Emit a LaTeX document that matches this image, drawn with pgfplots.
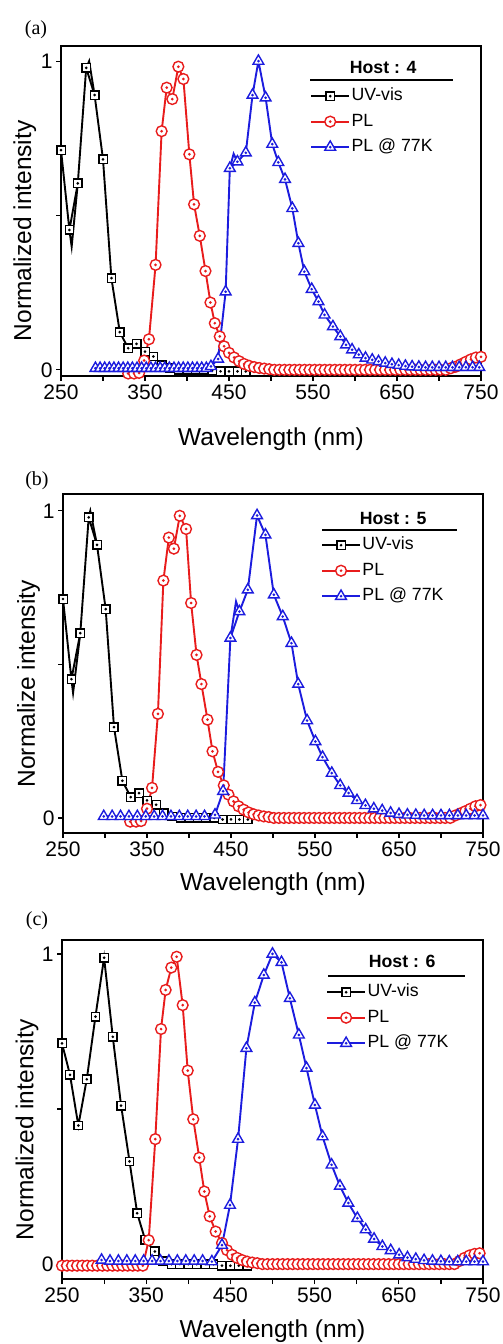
\documentclass[border=0pt]{standalone}
\usepackage{pgfplots}
\pgfplotsset{compat=1.18}
\usepackage{fontspec}
\setmainfont{Liberation Sans}
\newfontfamily\serifpanel{Liberation Serif}
\definecolor{cR}{RGB}{232,28,28}
\definecolor{cB}{RGB}{28,28,222}
\pgfdeclareplotmark{osq}{%
  \pgfpathrectangle{\pgfpoint{-\pgfplotmarksize}{-\pgfplotmarksize}}{\pgfpoint{2\pgfplotmarksize}{2\pgfplotmarksize}}%
  \pgfusepathqfillstroke
  \pgfpathcircle{\pgfpointorigin}{0.5pt}\pgfusepathqstroke}
\pgfdeclareplotmark{ocirc}{%
  \pgfpathcircle{\pgfpointorigin}{\pgfplotmarksize}%
  \pgfusepathqfillstroke
  \pgfpathcircle{\pgfpointorigin}{0.5pt}\pgfusepathqstroke}
\pgfdeclareplotmark{otri}{%
  \pgfpathmoveto{\pgfpointpolar{90}{\pgfplotmarksize}}%
  \pgfpathlineto{\pgfpointpolar{-30}{\pgfplotmarksize}}%
  \pgfpathlineto{\pgfpointpolar{210}{\pgfplotmarksize}}%
  \pgfpathclose
  \pgfusepathqfillstroke
  \pgfpathcircle{\pgfpointorigin}{0.5pt}\pgfusepathqstroke}
\pgfplotsset{
  panel/.style={
    scale only axis, xmin=250, xmax=750,
    xtick={250,350,...,750}, minor xtick={300,400,...,700},
    ytick={0,1}, minor ytick={0.5},
    tick pos=left, tick align=outside,
    major tick length=5pt, minor tick length=5pt,
    every tick/.append style={black, line width=1.2pt},
    every minor tick/.append style={black, line width=1.2pt},
    axis line style={line width=1.6pt},
    ticklabel style={font=\fontsize{21}{25}\selectfont},
    /pgf/number format/assume math mode=true,
    label style={font=\fontsize{24.5}{29}\selectfont},
    xlabel={Wavelength (nm)},
    legend style={draw=none, fill=none, font=\fontsize{17.7}{21}\selectfont,
      anchor=north west, inner sep=0pt, row sep=5.5pt,
      nodes={inner sep=1.5pt, text height=13pt, text depth=4pt}},
    legend cell align=left,
    legend image code/.code={\draw[mark repeat=2,mark phase=2] plot coordinates {(0pt,0pt) (19pt,0pt) (38pt,0pt)};},
  },
  uv/.style={black, line width=1.9pt, mark=osq, mark size=4.2pt, mark options={fill=white, line width=1.4pt}},
  pl/.style={cR, line width=1.9pt, mark=ocirc, mark size=5.4pt, mark options={fill=white, line width=1.4pt}},
  plk/.style={cB, line width=1.9pt, mark=otri, mark size=6.2pt, mark options={fill=white, line width=1.4pt}},
  seg/.style={line width=1.9pt, forget plot},
}
\begin{document}
\begin{tikzpicture}
\useasboundingbox (0pt,0pt) rectangle (503pt,1344pt);
\node[font=\serifpanel\fontsize{20}{24}\selectfont] at (36pt,1314pt) {(a)};
\node[font=\serifpanel\fontsize{20}{24}\selectfont] at (37pt,863pt) {(b)};
\node[font=\serifpanel\fontsize{20}{24}\selectfont] at (37pt,423pt) {(c)};

% ---------------- (a) ----------------
\begin{axis}[panel, at={(61pt,968pt)}, anchor=south west, width=420pt, height=330pt,
  ymin=-0.02, ymax=1.049,
  ylabel={Normalized intensity},
  ylabel style={at={(axis description cs:-0.086,0.44)}, anchor=center},
  xlabel style={at={(axis description cs:0.5,-0.211)}, anchor=base},
  legend style={at={(rel axis cs:0.593,0.879)}}]
\addplot[seg, black] coordinates {(260,0.453) (262.7,0.399) (270,0.604)};
\addplot[seg, black] coordinates {(280,0.978) (283.5,1.0) (290,0.89)};
\addplot[seg, cB] coordinates {(451,0.653) (455.5,0.70) (460,0.674)};
\addplot[uv] table {
x y
250 0.712
260 0.453
270 0.604
280 0.978
290 0.890
300 0.682
310 0.297
320 0.122
330 0.070
340 0.084
350 0.059
360 0.043
370 0.015
380 0.005
390 0.0
400 0.0
410 0.0
420 0.0
430 -0.003
440 -0.005
450 -0.005
460 -0.005
470 -0.005
};
\addlegendentry{UV-vis}
\addplot[pl] table {
x y
330 -0.012
337 -0.012
343 -0.010
349 0.030
354.7 0.099
362.6 0.340
369.8 0.773
375.8 0.914
382.5 0.877
389.7 0.982
395.7 0.942
402.8 0.698
408.4 0.536
415.2 0.434
422.0 0.320
427.9 0.218
433.1 0.151
439.0 0.108
444.2 0.076
450 0.055
456 0.040
462 0.028
468 0.019
474 0.013
480 0.009
486 0.006
492 0.004
498 0.002
504 0
510 0
516 0
522 0
528 0
534 0
540 0
546 0
552 0
558 0
564 0
570 0
576 0
582 0
588 0
594 0
600 0
606 0
612 0
618 0
624 0
630 0
636 0
642 0
648 0
654 0
660 0
666 0
672 0
678 0
684 0
690 0
696 0
702 0
708 0
714 0.005
720 0.010
726 0.018
732 0.026
738 0.034
744 0.040
750 0.042
};
\addlegendentry{PL}
\addplot[plk] table {
x y
291 0.005
296.5 0.005
302 0.005
307.5 0.005
313 0.005
318.5 0.005
324 0.005
329.5 0.005
335 0.005
340.5 0.005
346 0.005
351.5 0.005
357 0.005
362.5 0.005
368 0.005
373.5 0.005
379 0.005
384.5 0.005
390 0.005
395.5 0.005
401 0.005
406.5 0.005
412 0.005
417.5 0.005
423 0.005
428.5 0.011
437 0.035
446 0.253
451 0.653
460 0.674
470 0.703
478 0.890
485 1.000
493.6 0.881
501.5 0.731
508.7 0.672
516.7 0.617
525.4 0.523
532.6 0.410
539.7 0.318
548.5 0.261
556.5 0.221
563.8 0.178
573.7 0.140
582.5 0.108
589.3 0.081
596.5 0.065
604.5 0.049
612.5 0.038
620.5 0.032
628 0.027
636 0.022
644 0.018
652 0.015
660 0.012
668 0.010
676 0.009
684 0.008
692 0.008
700 0.008
708 0.008
716 0.008
724 0.008
732 0.008
740 0.008
748 0.008
};
\addlegendentry{PL @ 77K}
\node[font=\fontsize{17.7}{21}\selectfont\bfseries] at (rel axis cs:0.767,0.936) {Host : 4};
\draw[line width=1.3pt] (rel axis cs:0.593,0.897) -- (rel axis cs:0.933,0.897);
\end{axis}

% ---------------- (b) ----------------
\begin{axis}[panel, at={(63pt,511pt)}, anchor=south west, width=420pt, height=339pt,
  ymin=-0.049, ymax=1.055,
  ylabel={Normalize intensity},
  ylabel style={at={(axis description cs:-0.082,0.44)}, anchor=center},
  xlabel style={at={(axis description cs:0.5,-0.171)}, anchor=base},
  legend style={at={(rel axis cs:0.614,0.879)}}]
\addplot[seg, black] coordinates {(260,0.452) (262,0.407) (270.6,0.602)};
\addplot[seg, black] coordinates {(280.6,0.979) (282.5,1.0) (290.5,0.889)};
\addplot[seg, cB] coordinates {(449.3,0.586) (456,0.705) (460,0.672)};
\addplot[uv] table {
x y
250 0.713
260 0.452
270.6 0.602
280.6 0.979
290.5 0.889
300.8 0.680
310.7 0.296
320.7 0.121
330.6 0.068
340.5 0.081
350 0.057
360.8 0.043
370 0.015
380 0.005
390 0
400 0
410 0
420 0
430 0
440 -0.005
450 -0.005
460 -0.005
470 -0.005
};
\addlegendentry{UV-vis}
\addplot[pl] table {
x y
330 -0.012
337 -0.012
343 -0.010
350 0.030
356 0.098
363 0.339
369.5 0.773
376 0.913
382 0.877
389 0.984
396.5 0.941
402.5 0.700
409 0.531
414.8 0.436
422 0.320
428 0.217
434.6 0.150
441.4 0.106
447 0.076
453 0.054
459 0.038
465 0.027
471 0.018
477 0.012
483 0.008
489 0.005
495 0.003
501 0
507 0
513 0
519 0
525 0
531 0
537 0
543 0
549 0
555 0
561 0
567 0
573 0
579 0
585 0
591 0
597 0
603 0
609 0
615 0
621 0
627 0
633 0
639 0
645 0
651 0
657 0
663 0
669 0
675 0
681 0
687 0
693 0
699 0
705 0
711 0
717 0.008
723 0.015
729 0.022
735 0.030
741 0.038
747 0.042
};
\addlegendentry{PL}
\addplot[plk] table {
x y
298.5 0.005
308.5 0.005
318.5 0.005
328.5 0.005
338.5 0.005
348.5 0.005
358.5 0.005
368.5 0.005
378.5 0.005
388.5 0.005
398.5 0.005
408.5 0.005
418.5 0.005
431 0.010
440.6 0.087
449.3 0.586
460 0.672
470 0.743
481 0.985
491 0.922
501 0.727
511.6 0.656
522 0.569
530 0.436
540.6 0.317
550.5 0.249
559 0.198
570 0.146
580 0.106
590 0.081
600 0.057
610 0.041
620 0.030
630 0.024
640 0.016
650 0.012
660 0.010
670 0.009
680 0.008
690 0.008
700 0.008
710 0.008
720 0.008
730 0.008
740 0.008
750 0.008
};
\addlegendentry{PL @ 77K}
\node[font=\fontsize{17.7}{21}\selectfont\bfseries] at (rel axis cs:0.786,0.929) {Host : 5};
\draw[line width=1.3pt] (rel axis cs:0.617,0.894) -- (rel axis cs:0.938,0.894);
\end{axis}

% ---------------- (c) ----------------
\begin{axis}[panel, at={(62pt,65pt)}, anchor=south west, width=421pt, height=339pt,
  ymin=-0.048, ymax=1.045,
  ylabel={Normalized intensity},
  ylabel style={at={(axis description cs:-0.083,0.44)}, anchor=center},
  xlabel style={at={(axis description cs:0.5,-0.174)}, anchor=base},
  legend style={at={(rel axis cs:0.627,0.876)}}]
\addplot[uv] table {
x y
250 0.712
259.5 0.610
269.4 0.447
279.4 0.596
289.7 0.798
300 0.988
310.3 0.733
320.2 0.511
330.2 0.331
339.3 0.164
348.8 0.078
360.3 0.041
370 0.010
380 0
390 0
400 0
410 0
420 0
430 0
440 -0.005
450 -0.005
460 -0.005
470 -0.005
};
\addlegendentry{UV-vis}
\addplot[pl] table {
x y
250 -0.005
256 -0.005
262 -0.005
268 -0.005
274 -0.005
280 -0.005
286 -0.005
292 -0.005
298 -0.005
304 -0.005
310 -0.005
316 -0.005
322 -0.005
328 -0.005
334 -0.005
340 -0.005
346 -0.005
353 0.077
360.8 0.403
367.6 0.758
373.1 0.884
379.8 0.956
386.2 0.991
393.3 0.835
399.3 0.624
405.9 0.467
413 0.343
419 0.234
425.4 0.154
432.5 0.105
440 0.068
446 0.045
452 0.030
458 0.020
464 0.013
470 0.008
476 0.005
482 0.003
488 0
494 0
500 0
506 0
512 0
518 0
524 0
530 0
536 0
542 0
548 0
554 0
560 0
566 0
572 0
578 0
584 0
590 0
596 0
602 0
608 0
614 0
620 0
626 0
632 0
638 0
644 0
650 0
656 0
662 0
668 0
674 0
680 0
686 0
692 0
698 0
704 0
710 0
716 0
722 0.010
728 0.020
734 0.028
740 0.033
746 0.035
};
\addlegendentry{PL}
\addplot[plk] table {
x y
297 0.013
307 0.010
317 0.010
327 0.010
337 0.010
347 0.010
357 0.010
367 0.010
377 0.010
387 0.010
397 0.010
407 0.010
417 0.010
428 0.008
440 0.061
449.5 0.190
459.1 0.403
469 0.696
479 0.843
489.7 0.932
500 1.000
510.7 0.973
520.6 0.857
531.3 0.739
540.4 0.632
550.4 0.513
559.5 0.411
570.2 0.320
580.1 0.252
590 0.197
600.8 0.148
610.7 0.111
620.6 0.081
630.5 0.057
640.4 0.044
650.4 0.030
660.3 0.021
670.2 0.016
680 0.012
690 0.010
700 0.009
710 0.008
720 0.008
730 0.008
740 0.008
750 0.008
};
\addlegendentry{PL @ 77K}
\node[font=\fontsize{17.7}{21}\selectfont\bfseries] at (rel axis cs:0.808,0.938) {Host : 6};
\draw[line width=1.3pt] (rel axis cs:0.632,0.894) -- (rel axis cs:0.957,0.894);
\end{axis}
\end{tikzpicture}
\end{document}
